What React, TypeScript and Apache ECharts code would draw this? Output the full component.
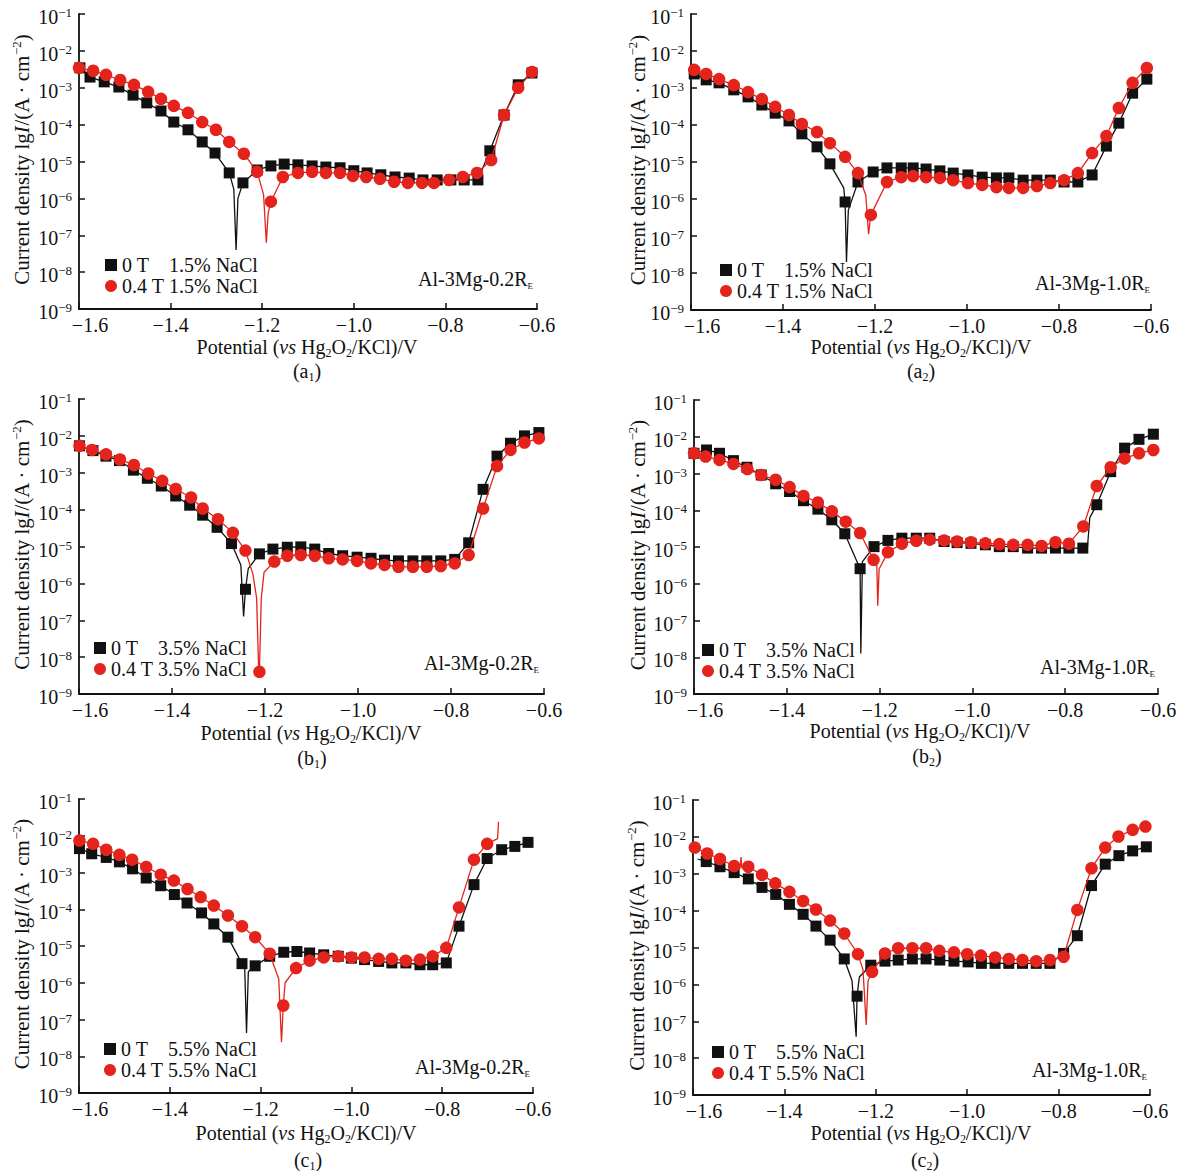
import React, { useEffect, useRef } from 'react';
import * as echarts from 'echarts';

const FONT = '"Liberation Serif", "Times New Roman", Times, serif';
const INK = '#111111';
const RED = '#e3231c';

// ---- axes ----
const X_MIN = -1.6;
const X_MAX = -0.6;
const X_STEP = 0.2;
const Y_MIN = -9; // lg of current density (10^-9)
const Y_MAX = -1; // 10^-1

// ---- texts ----
const NACL = ['1.5%', '1.5%', '3.5%', '3.5%', '5.5%', '5.5%'];
const ALLOYS = ['0.2', '1.0', '0.2', '1.0', '0.2', '1.0'];
const CAPTION_LETTERS = ['a', 'a', 'b', 'b', 'c', 'c'];
const CAPTION_INDEX = ['1', '2', '1', '2', '1', '2'];
const SERIES_LABELS = ['0 T', '0.4 T'];

// ---- data: potential (V) and lg current density; *_LINE = trace-only points ----
// (a1)
const A1_0T_E = [-1.598, -1.576, -1.545, -1.513, -1.482, -1.452, -1.421, -1.393, -1.362, -1.331, -1.303, -1.272, -1.242, -1.211, -1.181, -1.152, -1.122, -1.091, -1.061, -1.030, -1.000, -0.971, -0.941, -0.910, -0.879, -0.849, -0.818, -0.788, -0.759, -0.729, -0.703, -0.672, -0.641, -0.611];
const A1_0T_LG = [-2.46, -2.71, -2.84, -2.98, -3.20, -3.41, -3.63, -3.93, -4.14, -4.47, -4.77, -5.31, -5.58, -5.23, -5.12, -5.07, -5.09, -5.12, -5.15, -5.17, -5.25, -5.31, -5.36, -5.42, -5.45, -5.50, -5.50, -5.50, -5.50, -5.50, -4.71, -3.74, -2.92, -2.60];
const A1_0T_LINE = [[-1.262, -5.75], [-1.257, -7.4], [-1.253, -6.0]];
const A1_04T_E = [-1.600, -1.569, -1.541, -1.510, -1.480, -1.449, -1.421, -1.393, -1.362, -1.331, -1.301, -1.272, -1.240, -1.211, -1.181, -1.155, -1.122, -1.091, -1.061, -1.030, -1.002, -0.973, -0.943, -0.912, -0.882, -0.851, -0.825, -0.792, -0.762, -0.731, -0.700, -0.672, -0.641, -0.611];
const A1_04T_LG = [-2.46, -2.54, -2.65, -2.79, -2.92, -3.11, -3.30, -3.49, -3.68, -3.93, -4.14, -4.47, -4.79, -5.28, -6.09, -5.42, -5.31, -5.28, -5.31, -5.31, -5.39, -5.42, -5.47, -5.55, -5.58, -5.58, -5.58, -5.50, -5.42, -5.31, -4.96, -3.74, -3.00, -2.57];
const A1_04T_LINE = [[-1.197, -5.9], [-1.191, -7.2], [-1.187, -6.4]];

// (a2)
const A2_0T_E = [-1.593, -1.567, -1.539, -1.507, -1.476, -1.446, -1.417, -1.387, -1.359, -1.326, -1.298, -1.265, -1.237, -1.204, -1.174, -1.143, -1.117, -1.089, -1.059, -1.030, -0.998, -0.967, -0.936, -0.909, -0.878, -0.848, -0.819, -0.789, -0.759, -0.728, -0.697, -0.670, -0.640, -0.609];
const A2_0T_LG = [-2.62, -2.78, -2.86, -3.05, -3.24, -3.46, -3.68, -3.89, -4.24, -4.59, -5.05, -6.08, -5.54, -5.27, -5.16, -5.16, -5.16, -5.19, -5.24, -5.30, -5.35, -5.41, -5.43, -5.43, -5.49, -5.49, -5.49, -5.54, -5.54, -5.35, -4.57, -3.95, -3.14, -2.76];
const A2_0T_LINE = [[-1.268, -5.7], [-1.262, -7.7], [-1.258, -6.3]];
const A2_04T_E = [-1.593, -1.567, -1.539, -1.507, -1.476, -1.446, -1.417, -1.387, -1.359, -1.326, -1.298, -1.265, -1.237, -1.209, -1.174, -1.143, -1.117, -1.089, -1.059, -1.030, -0.998, -0.967, -0.936, -0.909, -0.878, -0.848, -0.819, -0.789, -0.759, -0.728, -0.697, -0.670, -0.640, -0.609];
const A2_04T_LG = [-2.51, -2.62, -2.76, -2.92, -3.11, -3.30, -3.51, -3.73, -3.97, -4.19, -4.49, -4.86, -5.30, -6.43, -5.54, -5.41, -5.38, -5.41, -5.43, -5.49, -5.57, -5.62, -5.68, -5.70, -5.70, -5.65, -5.57, -5.49, -5.30, -4.76, -4.30, -3.54, -2.86, -2.46];
const A2_04T_LINE = [[-1.220, -5.9], [-1.214, -6.95]];

// (b1)
const B1_0T_E = [-1.599, -1.570, -1.542, -1.513, -1.483, -1.453, -1.423, -1.392, -1.362, -1.334, -1.303, -1.272, -1.242, -1.212, -1.183, -1.152, -1.123, -1.093, -1.063, -1.033, -1.002, -0.972, -0.943, -0.913, -0.882, -0.852, -0.822, -0.792, -0.762, -0.731, -0.701, -0.672, -0.642, -0.611];
const B1_0T_LG = [-2.27, -2.40, -2.55, -2.67, -2.93, -3.15, -3.36, -3.63, -3.88, -4.15, -4.48, -4.92, -6.16, -5.20, -5.07, -5.02, -5.01, -5.07, -5.19, -5.25, -5.29, -5.32, -5.37, -5.39, -5.39, -5.39, -5.39, -5.35, -4.90, -3.45, -2.55, -2.20, -2.00, -1.91];
const B1_0T_LINE = [[-1.252, -5.5], [-1.246, -6.9], [-1.236, -5.6]];
const B1_04T_E = [-1.599, -1.572, -1.542, -1.512, -1.482, -1.451, -1.421, -1.392, -1.359, -1.334, -1.301, -1.269, -1.242, -1.212, -1.180, -1.152, -1.123, -1.093, -1.063, -1.033, -1.002, -0.972, -0.943, -0.913, -0.882, -0.852, -0.822, -0.792, -0.762, -0.731, -0.701, -0.672, -0.642, -0.611];
const B1_04T_LG = [-2.27, -2.38, -2.50, -2.64, -2.79, -3.02, -3.22, -3.44, -3.67, -3.97, -4.26, -4.63, -5.11, -8.40, -5.41, -5.25, -5.23, -5.25, -5.32, -5.35, -5.39, -5.46, -5.50, -5.55, -5.55, -5.55, -5.53, -5.46, -5.23, -3.97, -2.82, -2.38, -2.18, -2.07];
const B1_04T_LINE = [[-1.226, -5.75], [-1.218, -6.4], [-1.214, -8.2], [-1.208, -6.4], [-1.202, -5.7]];

// (b2)
const B2_0T_E = [-1.600, -1.573, -1.545, -1.515, -1.486, -1.455, -1.424, -1.394, -1.364, -1.333, -1.303, -1.275, -1.242, -1.212, -1.182, -1.152, -1.121, -1.092, -1.061, -1.033, -1.003, -0.972, -0.942, -0.912, -0.881, -0.851, -0.821, -0.792, -0.762, -0.732, -0.702, -0.672, -0.641, -0.610];
const B2_0T_LG = [-2.45, -2.36, -2.45, -2.65, -2.83, -3.04, -3.28, -3.49, -3.74, -3.97, -4.26, -4.64, -5.59, -4.99, -4.82, -4.76, -4.76, -4.76, -4.85, -4.88, -4.90, -4.94, -4.99, -4.99, -5.03, -5.03, -5.03, -5.03, -5.03, -3.85, -2.95, -2.31, -2.07, -1.93];
const B2_0T_LINE = [[-1.2405, -7.9], [-1.237, -5.4], [-0.752, -5.0], [-0.747, -4.2]];
const B2_04T_E = [-1.600, -1.575, -1.545, -1.515, -1.485, -1.455, -1.424, -1.394, -1.364, -1.333, -1.303, -1.273, -1.242, -1.213, -1.182, -1.152, -1.121, -1.092, -1.061, -1.033, -1.003, -0.972, -0.942, -0.912, -0.881, -0.851, -0.821, -0.792, -0.761, -0.732, -0.702, -0.672, -0.641, -0.610];
const B2_04T_LG = [-2.45, -2.54, -2.63, -2.74, -2.88, -3.04, -3.17, -3.37, -3.61, -3.79, -4.03, -4.31, -4.62, -5.35, -5.14, -4.91, -4.83, -4.80, -4.82, -4.85, -4.87, -4.90, -4.92, -4.94, -4.94, -4.97, -4.87, -4.91, -4.44, -3.34, -2.83, -2.59, -2.45, -2.36];
const B2_04T_LINE = [[-1.206, -5.5], [-1.204, -6.6], [-1.201, -5.6]];

// (c1)
const C1_0T_E = [-1.599, -1.572, -1.540, -1.511, -1.482, -1.452, -1.420, -1.390, -1.362, -1.330, -1.303, -1.272, -1.241, -1.212, -1.180, -1.149, -1.120, -1.092, -1.061, -1.029, -1.000, -0.971, -0.940, -0.911, -0.880, -0.849, -0.821, -0.791, -0.763, -0.730, -0.701, -0.669, -0.640, -0.611];
const C1_0T_LG = [-2.35, -2.49, -2.59, -2.71, -2.90, -3.15, -3.36, -3.60, -3.83, -4.10, -4.40, -4.76, -5.48, -5.54, -5.28, -5.17, -5.15, -5.19, -5.24, -5.28, -5.33, -5.37, -5.42, -5.46, -5.46, -5.51, -5.51, -5.46, -4.46, -3.33, -2.62, -2.38, -2.29, -2.18];
const C1_0T_LINE = [[-1.235, -5.6], [-1.231, -7.37], [-1.227, -5.7]];
const C1_04T_E = [-1.599, -1.569, -1.540, -1.511, -1.483, -1.452, -1.420, -1.391, -1.361, -1.332, -1.303, -1.272, -1.241, -1.212, -1.180, -1.150, -1.122, -1.092, -1.061, -1.029, -1.000, -0.971, -0.940, -0.911, -0.880, -0.849, -0.821, -0.791, -0.763, -0.730, -0.701];
const C1_04T_LG = [-2.13, -2.22, -2.38, -2.52, -2.65, -2.85, -3.06, -3.22, -3.45, -3.67, -3.90, -4.17, -4.46, -4.76, -5.21, -6.62, -5.60, -5.40, -5.31, -5.28, -5.31, -5.31, -5.35, -5.35, -5.40, -5.37, -5.28, -5.05, -3.95, -2.65, -2.22];
const C1_04T_LINE = [[-1.160, -5.9], [-1.154, -7.62], [-1.146, -6.0], [-0.678, -2.08], [-0.676, -1.62]];

// (c2)
const C2_0T_E = [-1.571, -1.541, -1.510, -1.479, -1.449, -1.419, -1.389, -1.359, -1.331, -1.300, -1.269, -1.241, -1.211, -1.180, -1.151, -1.120, -1.090, -1.060, -1.029, -0.998, -0.969, -0.939, -0.909, -0.879, -0.849, -0.819, -0.789, -0.759, -0.728, -0.698, -0.668, -0.638, -0.608];
const C2_0T_LG = [-2.67, -2.81, -2.97, -3.14, -3.37, -3.56, -3.83, -4.10, -4.42, -4.80, -5.31, -6.32, -5.48, -5.37, -5.34, -5.31, -5.31, -5.34, -5.37, -5.39, -5.43, -5.43, -5.43, -5.43, -5.43, -5.43, -5.16, -4.68, -3.32, -2.74, -2.51, -2.38, -2.27];
const C2_0T_LINE = [[-1.590, -2.60], [-1.252, -5.9], [-1.243, -7.42], [-1.236, -5.8]];
const C2_04T_E = [-1.596, -1.569, -1.541, -1.510, -1.479, -1.449, -1.420, -1.389, -1.359, -1.331, -1.300, -1.269, -1.239, -1.208, -1.180, -1.151, -1.120, -1.090, -1.061, -1.029, -1.000, -0.970, -0.939, -0.909, -0.879, -0.849, -0.819, -0.789, -0.759, -0.728, -0.698, -0.669, -0.638, -0.610];
const C2_04T_LG = [-2.29, -2.45, -2.60, -2.79, -2.81, -3.03, -3.26, -3.49, -3.74, -3.97, -4.27, -4.62, -5.18, -5.66, -5.16, -5.02, -5.02, -5.02, -5.09, -5.13, -5.18, -5.22, -5.27, -5.31, -5.34, -5.37, -5.34, -5.25, -3.98, -2.85, -2.29, -1.99, -1.81, -1.72];
const C2_04T_LINE = [[-1.497, -2.85], [-1.495, -2.55], [-1.493, -2.85], [-1.228, -5.6], [-1.221, -7.1], [-1.217, -5.9]];

const CURVES = [
  [[A1_0T_E, A1_0T_LG, A1_0T_LINE], [A1_04T_E, A1_04T_LG, A1_04T_LINE]],
  [[A2_0T_E, A2_0T_LG, A2_0T_LINE], [A2_04T_E, A2_04T_LG, A2_04T_LINE]],
  [[B1_0T_E, B1_0T_LG, B1_0T_LINE], [B1_04T_E, B1_04T_LG, B1_04T_LINE]],
  [[B2_0T_E, B2_0T_LG, B2_0T_LINE], [B2_04T_E, B2_04T_LG, B2_04T_LINE]],
  [[C1_0T_E, C1_0T_LG, C1_0T_LINE], [C1_04T_E, C1_04T_LG, C1_04T_LINE]],
  [[C2_0T_E, C2_0T_LG, C2_0T_LINE], [C2_04T_E, C2_04T_LG, C2_04T_LINE]],
];

// ---- layout (pixels) ----
const LAYOUT = [
  { left: 79, top: 14, w: 458, h: 295, lgL: 105, lgT: 255, annR: 533, annY: 279, xtX: 307, xtY: 347, capX: 307, capY: 371, ytX: 22 },
  { left: 691, top: 14, w: 460, h: 296, lgL: 720, lgT: 260, annR: 1150, annY: 283, xtX: 921, xtY: 347, capX: 921, capY: 371, ytX: 638 },
  { left: 79, top: 399, w: 465, h: 295, lgL: 94, lgT: 638, annR: 539, annY: 663, xtX: 311, xtY: 733, capX: 312, capY: 758, ytX: 22 },
  { left: 694, top: 400, w: 464, h: 294, lgL: 702, lgT: 640, annR: 1155, annY: 667, xtX: 920, xtY: 731, capX: 927, capY: 756, ytX: 638 },
  { left: 79, top: 799, w: 454, h: 294, lgL: 104, lgT: 1039, annR: 530, annY: 1067, xtX: 306, xtY: 1133, capX: 308, capY: 1160, ytX: 22 },
  { left: 693, top: 800, w: 457, h: 295, lgL: 712, lgT: 1042, annR: 1147, annY: 1070, xtX: 921, xtY: 1133, capX: 925, capY: 1160, ytX: 637 },
];

function buildData(E: number[], LG: number[], extra: number[][]) {
  const pts: any[] = E.map((x, i) => ({ value: [x, LG[i]], m: true }));
  extra.forEach((p) => pts.push({ value: [p[0], p[1]], m: false }));
  pts.sort((a, b) => a.value[0] - b.value[0]);
  return pts.map((p) => (p.m ? { value: p.value } : { value: p.value, symbol: 'none' }));
}

function makeRich(size: number) {
  return {
    n: { fontSize: size, fontFamily: FONT, fill: INK, color: INK, lineHeight: size + 3 },
    i: { fontSize: size, fontFamily: FONT, fontStyle: 'italic', fill: INK, color: INK, lineHeight: size + 3 },
    sub: { fontSize: Math.round(size * 0.6), fontFamily: FONT, fill: INK, color: INK, lineHeight: Math.round(size * 0.62), verticalAlign: 'bottom' },
    sup: { fontSize: Math.round(size * 0.62), fontFamily: FONT, fill: INK, color: INK, lineHeight: Math.round(size * 0.62), verticalAlign: 'top' },
    e: { fontSize: 9, fontFamily: FONT, fill: INK, color: INK, lineHeight: 10, verticalAlign: 'bottom' },
  };
}

function gText(x: number, y: number, text: string, align: string, size: number, rotation = 0) {
  return {
    type: 'text',
    x,
    y,
    rotation,
    silent: true,
    style: {
      text,
      rich: makeRich(size),
      fontSize: size,
      fontFamily: FONT,
      fill: INK,
      align,
      verticalAlign: 'middle',
      textAlign: align,
      textVerticalAlign: 'middle',
    },
  };
}

function fmtX(v: number) {
  const s = (v < 0 ? '\u2212' : '') + Math.abs(v).toFixed(1);
  return Math.abs(v - X_MIN) < 1e-6 ? `{m|${s}}` : s;
}

function buildOption() {
  const grid: any[] = [];
  const xAxis: any[] = [];
  const yAxis: any[] = [];
  const legend: any[] = [];
  const series: any[] = [];
  const graphic: any[] = [];

  LAYOUT.forEach((L, i) => {
    grid.push({ left: L.left, top: L.top, width: L.w, height: L.h });
    xAxis.push({
      gridIndex: i,
      type: 'value',
      min: X_MIN,
      max: X_MAX,
      interval: X_STEP,
      splitLine: { show: false },
      axisLine: { onZero: false, lineStyle: { color: INK, width: 1.8 } },
      axisTick: { inside: true, length: 6, lineStyle: { color: INK, width: 1.5 } },
      axisLabel: {
        margin: 6,
        color: INK,
        fontFamily: FONT,
        fontSize: 20,
        formatter: fmtX,
        rich: {
          m: { padding: [0, 0, 0, 22], fontSize: 20, fontFamily: FONT, color: INK },
        },
      },
    });
    yAxis.push({
      gridIndex: i,
      type: 'value',
      min: Y_MIN,
      max: Y_MAX,
      interval: 1,
      splitLine: { show: false },
      axisLine: { show: true, onZero: false, lineStyle: { color: INK, width: 1.8 } },
      axisTick: { show: true, inside: true, length: 6, lineStyle: { color: INK, width: 1.5 } },
      axisLabel: {
        margin: 7,
        padding: [6, 0, 0, 0],
        formatter: (v: number) => `{b|10}{s|\u2212${Math.abs(v)}}`,
        rich: {
          b: { fontSize: 20, fontFamily: FONT, color: INK, lineHeight: 22 },
          s: { fontSize: 13, fontFamily: FONT, color: INK, lineHeight: 13, verticalAlign: 'top' },
        },
      },
    });

    const id = 'p' + i;
    const [blk, red] = CURVES[i];
    series.push({
      type: 'line',
      name: id + '_0',
      xAxisIndex: i,
      yAxisIndex: i,
      data: buildData(blk[0] as number[], blk[1] as number[], blk[2] as number[][]),
      symbol: 'rect',
      symbolSize: 11,
      itemStyle: { color: INK },
      lineStyle: { color: INK, width: 1.3 },
      z: 2,
    });
    series.push({
      type: 'line',
      name: id + '_04',
      xAxisIndex: i,
      yAxisIndex: i,
      data: buildData(red[0] as number[], red[1] as number[], red[2] as number[][]),
      symbol: 'circle',
      symbolSize: 12.5,
      itemStyle: { color: RED },
      lineStyle: { color: RED, width: 1.3 },
      z: 3,
    });

    legend.push({
      left: L.lgL,
      top: L.lgT,
      orient: 'vertical',
      padding: 0,
      itemGap: 1,
      itemWidth: 12,
      itemHeight: 12,
      selectedMode: false,
      data: [
        { name: id + '_0', icon: 'rect' },
        { name: id + '_04', icon: 'circle' },
      ],
      formatter: (name: string) =>
        `{a|${name.endsWith('_04') ? SERIES_LABELS[1] : SERIES_LABELS[0]}}{b|${NACL[i]} NaCl}`,
      textStyle: {
        fontFamily: FONT,
        fontSize: 20,
        color: INK,
        rich: {
          a: { width: 47, fontFamily: FONT, fontSize: 20, color: INK, lineHeight: 20 },
          b: { fontFamily: FONT, fontSize: 20, color: INK, lineHeight: 20 },
        },
      },
    });

    graphic.push(gText(L.annR, L.annY, `{n|Al-3Mg-${ALLOYS[i]}R}{e|E}`, 'right', 20));
    graphic.push(
      gText(L.xtX, L.xtY, '{n|Potential (}{i|vs}{n| Hg}{sub|2}{n|O}{sub|2}{n|/KCl)/V}', 'center', 20),
    );
    graphic.push(gText(L.capX, L.capY, `{n|(${CAPTION_LETTERS[i]}}{sub|${CAPTION_INDEX[i]}}{n|)}`, 'center', 20));
    graphic.push(
      gText(
        L.ytX,
        L.top + L.h / 2 - 2,
        '{n|Current density lg}{i|I}{n|/(A \u00b7 cm}{sup|\u22122}{n|)}',
        'center',
        21,
        Math.PI / 2,
      ),
    );
  });

  return {
    animation: false,
    backgroundColor: '#ffffff',
    textStyle: { fontFamily: FONT },
    grid,
    xAxis,
    yAxis,
    legend,
    series,
    graphic,
  };
}

export default function App() {
  const ref = useRef<HTMLDivElement | null>(null);
  useEffect(() => {
    if (!ref.current) return;
    const chart = echarts.init(ref.current, undefined, { renderer: 'svg' });
    chart.setOption(buildOption() as any);
    return () => chart.dispose();
  }, []);
  return (
    <div
      ref={ref}
      style={{ position: 'absolute', left: 0, top: 0, width: 1186, height: 1171, background: '#fff' }}
    />
  );
}
